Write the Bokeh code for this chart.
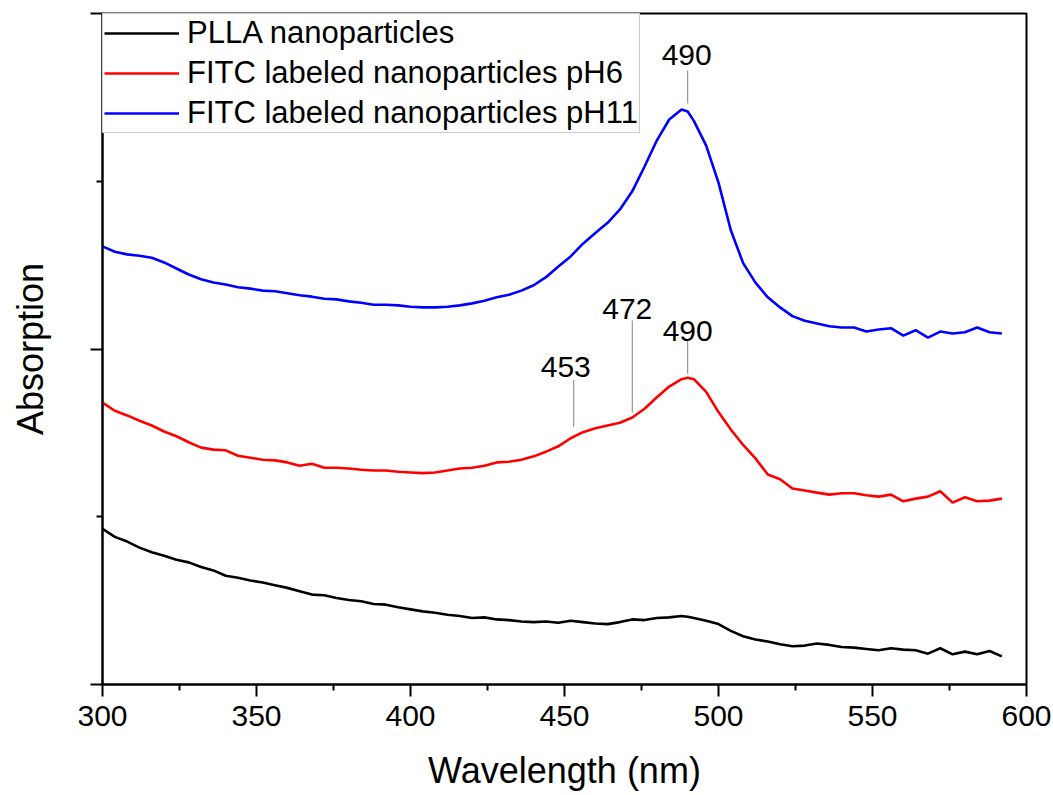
import numpy as np
from bokeh.plotting import figure
from bokeh.models import Range1d, FixedTicker, Legend, LegendItem, CustomJSTickFormatter
from bokeh.core.properties import value
from bokeh.embed import file_html
from bokeh.resources import INLINE

# UV-vis absorption spectra (arbitrary units, curves offset vertically)
wavelength = [300, 304, 308, 312, 316, 320, 324, 328, 332, 336, 340, 344, 348, 352,
              356, 360, 364, 368, 372, 376, 380, 384, 388, 392, 396, 400, 404, 408,
              412, 416, 420, 424, 428, 432, 436, 440, 444, 448, 452, 456, 460, 464,
              468, 472, 476, 480, 484, 488, 490, 492, 496, 500, 504, 508, 512, 516,
              520, 524, 528, 532, 536, 540, 544, 548, 552, 556, 560, 564, 568, 572,
              576, 580, 584, 588, 592]

plla = [0.232, 0.220, 0.213, 0.204, 0.197, 0.192, 0.186, 0.182, 0.175, 0.170, 0.162,
        0.159, 0.155, 0.152, 0.148, 0.144, 0.139, 0.134, 0.133, 0.129, 0.126, 0.124,
        0.120, 0.119, 0.115, 0.112, 0.109, 0.107, 0.104, 0.102, 0.099, 0.100, 0.097,
        0.096, 0.094, 0.093, 0.094, 0.092, 0.095, 0.093, 0.091, 0.090, 0.093, 0.097,
        0.096, 0.099, 0.100, 0.102, 0.101, 0.099, 0.095, 0.090, 0.080, 0.072, 0.067,
        0.064, 0.060, 0.057, 0.058, 0.061, 0.059, 0.056, 0.055, 0.053, 0.051, 0.054,
        0.052, 0.051, 0.046, 0.054, 0.045, 0.049, 0.045, 0.050, 0.042]

fitc_ph6 = [0.420, 0.408, 0.401, 0.393, 0.386, 0.377, 0.370, 0.361, 0.353, 0.350, 0.349,
            0.341, 0.338, 0.335, 0.334, 0.331, 0.326, 0.329, 0.323, 0.323, 0.322, 0.320,
            0.319, 0.319, 0.317, 0.316, 0.315, 0.316, 0.319, 0.322, 0.323, 0.326, 0.331,
            0.332, 0.335, 0.340, 0.347, 0.355, 0.367, 0.376, 0.382, 0.386, 0.390, 0.398,
            0.411, 0.428, 0.444, 0.455, 0.457, 0.455, 0.436, 0.406, 0.380, 0.357, 0.337,
            0.313, 0.306, 0.292, 0.289, 0.286, 0.283, 0.285, 0.285, 0.282, 0.280, 0.283,
            0.273, 0.277, 0.280, 0.288, 0.271, 0.279, 0.273, 0.274, 0.277]

fitc_ph11 = [0.653, 0.645, 0.641, 0.639, 0.636, 0.629, 0.620, 0.611, 0.604, 0.599, 0.596,
             0.592, 0.590, 0.587, 0.586, 0.583, 0.580, 0.578, 0.575, 0.574, 0.571, 0.569,
             0.566, 0.566, 0.565, 0.563, 0.562, 0.562, 0.563, 0.565, 0.568, 0.572, 0.577,
             0.581, 0.587, 0.595, 0.607, 0.623, 0.638, 0.657, 0.673, 0.688, 0.708, 0.735,
             0.772, 0.811, 0.842, 0.857, 0.854, 0.840, 0.803, 0.748, 0.677, 0.628, 0.599,
             0.577, 0.562, 0.549, 0.542, 0.538, 0.534, 0.532, 0.532, 0.526, 0.529, 0.531,
             0.520, 0.528, 0.517, 0.526, 0.523, 0.525, 0.532, 0.525, 0.523]

series_names = ["PLLA nanoparticles",
                "FITC labeled nanoparticles pH6",
                "FITC labeled nanoparticles pH11"]
series_colors = ["#000000", "#ff0000", "#0000ff"]

x_ticks = [300, 350, 400, 450, 500, 550, 600]
x_minor_ticks = [325, 375, 425, 475, 525, 575]
y_ticks = [0.0, 0.5, 1.0]
y_minor_ticks = [0.25, 0.75]

x_title = "Wavelength (nm)"
y_title = "Absorption"

# Marked band positions: wavelength, label, index of the curve they sit on
peak_wl = [453, 472, 490, 490]
peak_text = ["453", "472", "490", "490"]
peak_curve = [1, 1, 1, 2]

FONT = "Liberation Sans"
W, H = 1053, 795
BORDER_L, BORDER_R, BORDER_T, BORDER_B = 102, 27, 13, 111
X0, X1, Y0, Y1 = 300, 600, 0.0, 1.0

p = figure(width=W, height=H, x_range=Range1d(X0, X1), y_range=Range1d(Y0, Y1),
           output_backend="svg", toolbar_location=None,
           min_border_left=BORDER_L, min_border_right=BORDER_R,
           min_border_top=BORDER_T, min_border_bottom=BORDER_B)
p.grid.visible = False
p.outline_line_color = "black"
p.outline_line_width = 2
p.background_fill_color = "white"
p.border_fill_color = "white"

for ax in (p.xaxis, p.yaxis):
    ax.axis_line_width = 2
    ax.axis_line_color = "black"
    ax.major_tick_line_width = 2
    ax.minor_tick_line_width = 2
    ax.major_tick_in = 0
    ax.major_tick_out = 12
    ax.minor_tick_in = 0
    ax.minor_tick_out = 6
    ax.major_label_text_font = FONT
    ax.major_label_text_font_size = "30px"
    ax.major_label_text_color = "black"
    ax.axis_label_text_font = FONT
    ax.axis_label_text_font_size = "36px"
    ax.axis_label_text_font_style = "normal"
    ax.axis_label_text_color = "black"

p.xaxis.ticker = FixedTicker(ticks=x_ticks, minor_ticks=x_minor_ticks)
p.xaxis.major_label_standoff = 9
p.xaxis.axis_label = x_title
p.xaxis.axis_label_standoff = 21

# y axis: ticks only, no numbers
p.yaxis.ticker = FixedTicker(ticks=y_ticks, minor_ticks=y_minor_ticks)
p.yaxis.formatter = CustomJSTickFormatter(code="return '';")
p.yaxis.major_label_standoff = 0
p.yaxis.axis_label = y_title
p.yaxis.axis_label_standoff = 40

curves = [plla, fitc_ph6, fitc_ph11]
renderers = []
for ys, c in zip(curves, series_colors):
    renderers.append(p.line(wavelength, ys, line_color=c, line_width=2.6))

legend = Legend(
    items=[LegendItem(label=n, renderers=[r]) for n, r in zip(series_names, renderers)],
    location="top_left", margin=0, padding=1, spacing=4,
    glyph_width=75, glyph_height=34, label_height=34, label_standoff=8,
    border_line_color="#9a9a9a", border_line_width=1,
    background_fill_color="white", background_fill_alpha=1.0,
    label_text_font=FONT, label_text_font_size="31px", label_text_color="black",
)
p.add_layout(legend)

# Leader lines and labels above the marked bands (offsets in screen pixels)
px = (Y1 - Y0) / (H - BORDER_T - BORDER_B)
gap_px = [10, 5, 4, 8]
len_px = [47, 92, 33, 33]
text_gap_px = [13, 11, 10, 15]
text_dx = [-8, -5, 0, -1]

y_on_curve = [float(np.interp(w, wavelength, curves[k])) for w, k in zip(peak_wl, peak_curve)]
y_lo = [y + g * px for y, g in zip(y_on_curve, gap_px)]
y_hi = [a + l * px for a, l in zip(y_lo, len_px)]
y_txt = [a + t * px for a, t in zip(y_hi, text_gap_px)]

p.segment(x0=peak_wl, y0=y_lo, x1=peak_wl, y1=y_hi, line_color="#808080", line_width=1)
p.text(x=peak_wl, y=y_txt, text=peak_text, x_offset=text_dx,
       text_align="center", text_baseline="alphabetic",
       text_font=value(FONT), text_font_size="30px", text_color="black")

open("out.html", "w").write(file_html(p, INLINE))
